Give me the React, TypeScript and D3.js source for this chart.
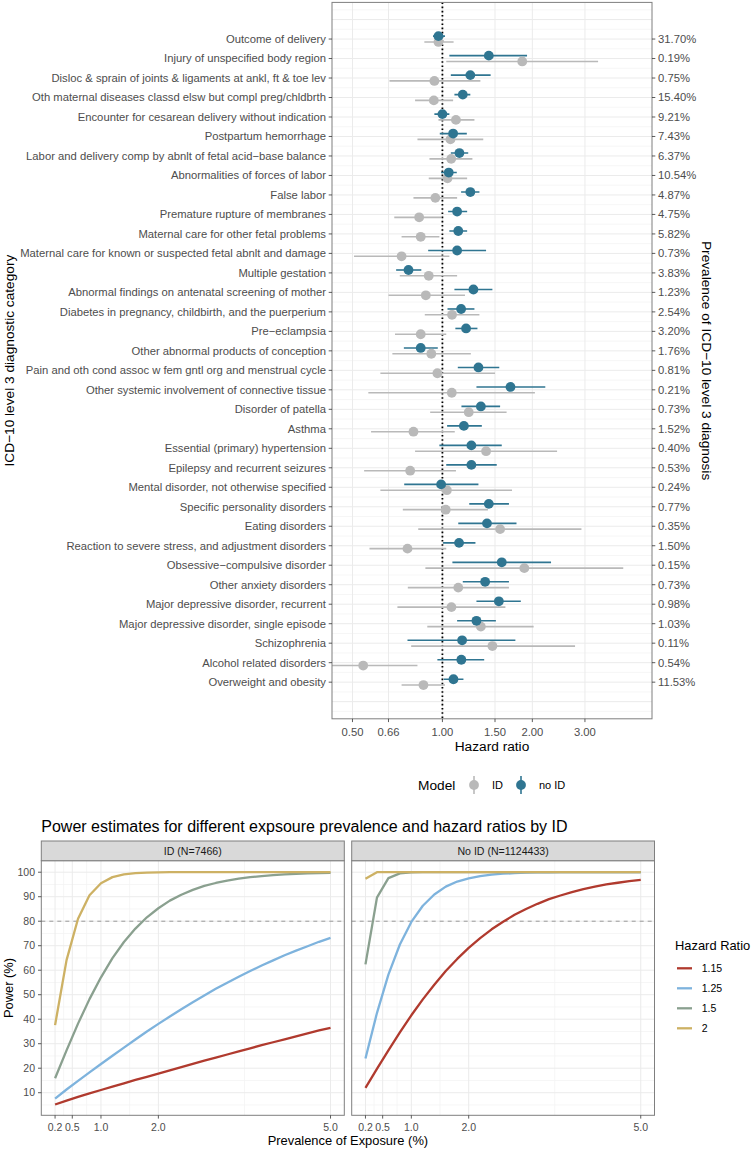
import React from 'react';
import * as d3 from 'd3';

const FONT = "'Liberation Sans', Arial, Helvetica, sans-serif";

const categories = [
  'Outcome of delivery',
  'Injury of unspecified body region',
  'Disloc & sprain of joints & ligaments at ankl, ft & toe lev',
  'Oth maternal diseases classd elsw but compl preg/chldbrth',
  'Encounter for cesarean delivery without indication',
  'Postpartum hemorrhage',
  'Labor and delivery comp by abnlt of fetal acid\u2212base balance',
  'Abnormalities of forces of labor',
  'False labor',
  'Premature rupture of membranes',
  'Maternal care for other fetal problems',
  'Maternal care for known or suspected fetal abnlt and damage',
  'Multiple gestation',
  'Abnormal findings on antenatal screening of mother',
  'Diabetes in pregnancy, childbirth, and the puerperium',
  'Pre\u2212eclampsia',
  'Other abnormal products of conception',
  'Pain and oth cond assoc w fem gntl org and menstrual cycle',
  'Other systemic involvement of connective tissue',
  'Disorder of patella',
  'Asthma',
  'Essential (primary) hypertension',
  'Epilepsy and recurrent seizures',
  'Mental disorder, not otherwise specified',
  'Specific personality disorders',
  'Eating disorders',
  'Reaction to severe stress, and adjustment disorders',
  'Obsessive\u2212compulsive disorder',
  'Other anxiety disorders',
  'Major depressive disorder, recurrent',
  'Major depressive disorder, single episode',
  'Schizophrenia',
  'Alcohol related disorders',
  'Overweight and obesity',
];

const prevalenceLabels = [
  '31.70%', '0.19%', '0.75%', '15.40%', '9.21%', '7.43%', '6.37%', '10.54%', '4.87%',
  '4.75%', '5.82%', '0.73%', '3.83%', '1.23%', '2.54%', '3.20%', '1.76%', '0.81%',
  '0.21%', '0.73%', '1.52%', '0.40%', '0.53%', '0.24%', '0.77%', '0.35%', '1.50%',
  '0.15%', '0.73%', '0.98%', '1.03%', '0.11%', '0.54%', '11.53%',
];

const noIdHR = [0.97, 1.43, 1.24, 1.17, 1.0, 1.086, 1.14, 1.05, 1.24, 1.12, 1.13, 1.12, 0.77, 1.27, 1.155, 1.2, 0.846, 1.32, 1.69, 1.345, 1.18, 1.25, 1.25, 0.99, 1.43, 1.41, 1.137, 1.58, 1.39, 1.545, 1.3, 1.164, 1.157, 1.089];
const noIdLower = [0.93, 1.055, 1.067, 1.097, 0.94, 0.98, 1.067, 0.99, 1.155, 1.045, 1.055, 0.896, 0.7, 1.097, 1.04, 1.105, 0.743, 1.126, 1.3, 1.158, 1.037, 0.977, 1.03, 0.745, 1.23, 1.13, 1.005, 1.08, 1.17, 1.3, 1.12, 0.764, 0.962, 1.01];
const noIdUpper = [1.02, 1.92, 1.45, 1.24, 1.055, 1.207, 1.22, 1.117, 1.33, 1.21, 1.21, 1.4, 0.85, 1.47, 1.28, 1.31, 0.965, 1.55, 2.21, 1.56, 1.355, 1.58, 1.52, 1.32, 1.67, 1.77, 1.29, 2.31, 1.67, 1.83, 1.51, 1.755, 1.38, 1.176];

const idHR = [0.97, 1.85, 0.94, 0.936, 1.11, 1.064, 1.07, 1.04, 0.947, 0.836, 0.846, 0.73, 0.9, 0.88, 1.077, 0.846, 0.918, 0.962, 1.075, 1.225, 0.8, 1.4, 0.78, 1.035, 1.026, 1.56, 0.764, 1.88, 1.13, 1.072, 1.345, 1.47, 0.543, 0.864];
const idLower = [0.87, 1.03, 0.665, 0.81, 0.97, 0.825, 0.905, 0.9, 0.8, 0.69, 0.73, 0.506, 0.72, 0.66, 0.873, 0.694, 0.68, 0.62, 0.565, 0.91, 0.577, 0.81, 0.547, 0.62, 0.737, 0.83, 0.57, 0.877, 0.766, 0.707, 0.89, 0.786, 0.4, 0.73];
const idUpper = [1.09, 3.32, 1.34, 1.086, 1.28, 1.37, 1.26, 1.21, 1.12, 0.99, 0.977, 1.055, 1.12, 1.19, 1.33, 1.03, 1.245, 1.5, 2.04, 1.64, 1.1, 2.42, 1.11, 1.71, 1.42, 2.92, 1.03, 4.03, 1.67, 1.625, 2.02, 2.78, 0.825, 1.02];

const hrTicks = [0.5, 0.66, 1, 1.5, 2, 3];
const hrTickLabels = ['0.50', '0.66', '1.00', '1.50', '2.00', '3.00'];

const exposure = [0.2, 0.4, 0.6, 0.8, 1.0, 1.2, 1.4, 1.6, 1.8, 2.0, 2.2, 2.4, 2.6, 2.8, 3.0, 3.2, 3.4, 3.6, 3.8, 4.0, 4.2, 4.4, 4.6, 4.8, 5.0];
const exposureTicks = [0.2, 0.5, 1, 2, 5];
const exposureTickLabels = ['0.2', '0.5', '1.0', '2.0', '5.0'];
const exposureMinor = [0.35, 0.75, 1.5, 3.5];
const powerTicks = [10, 20, 30, 40, 50, 60, 70, 80, 90, 100];
const powerMinor = [5, 15, 25, 35, 45, 55, 65, 75, 85, 95];

const hazardRatios = ['1.15', '1.25', '1.5', '2'];
const hrColors = ['#B03A2E', '#7EB3DD', '#8AA08F', '#CDB164'];

const idPower115 = [5.2, 6.8, 8.3, 9.7, 11.1, 12.5, 13.8, 15.2, 16.5, 17.8, 19.1, 20.4, 21.8, 23.1, 24.3, 25.6, 26.9, 28.1, 29.4, 30.6, 31.8, 33.0, 34.2, 35.4, 36.5];
const idPower125 = [7.6, 11.3, 14.8, 18.3, 21.7, 25.1, 28.4, 31.7, 35.0, 38.1, 41.1, 44.1, 46.9, 49.7, 52.4, 54.9, 57.3, 59.7, 61.9, 64.0, 66.1, 68.0, 69.8, 71.6, 73.2];
const idPower150 = [15.9, 27.3, 38.2, 48.2, 57.1, 64.9, 71.5, 77.0, 81.6, 85.3, 88.4, 90.8, 92.8, 94.4, 95.6, 96.6, 97.4, 98.0, 98.4, 98.8, 99.1, 99.3, 99.5, 99.6, 99.7];
const idPower200 = [37.6, 64.1, 81.0, 90.6, 95.5, 98.0, 99.1, 99.6, 99.8, 99.9, 100, 100, 100, 100, 100, 100, 100, 100, 100, 100, 100, 100, 100, 100, 100];

const noIdPower115 = [12.0, 19.7, 27.3, 34.6, 41.6, 48.1, 54.1, 59.7, 64.6, 69.1, 73.1, 76.7, 79.8, 82.6, 85.0, 87.1, 89.0, 90.5, 91.9, 93.1, 94.1, 95.0, 95.7, 96.4, 96.9];
const noIdPower125 = [24.0, 42.5, 58.2, 70.5, 79.7, 86.3, 90.9, 94.1, 96.2, 97.5, 98.4, 99.0, 99.4, 99.6, 99.8, 99.9, 99.9, 100, 100, 100, 100, 100, 100, 100, 100];
const noIdPower150 = [62.4, 89.6, 97.6, 99.5, 99.9, 100, 100, 100, 100, 100, 100, 100, 100, 100, 100, 100, 100, 100, 100, 100, 100, 100, 100, 100, 100];
const noIdPower200 = [97.3, 100, 100, 100, 100, 100, 100, 100, 100, 100, 100, 100, 100, 100, 100, 100, 100, 100, 100, 100, 100, 100, 100, 100, 100];

const panelLabels = ['ID (N=7466)', 'No ID (N=1124433)'];

const TEAL = '#2F7591';
const GREY = '#B9B9B9';
const TICK_TEXT = '#4D4D4D';
const GRID = '#EBEBEB';
const GRID_MINOR = '#F4F4F4';
const BORDER = '#7F7F7F';

export default function App() {
  // ---------- forest plot ----------
  const FX0 = 332, FX1 = 652, FY0 = 2.4, FY1 = 718.8;
  const fx = d3.scaleLog().domain([0.427, 5.03]).range([FX0, FX1]);
  const fy = d3.scaleLinear().domain([-1.88, 34.88]).range([FY0, FY1]);
  const dodge = 2.9;
  const halfSteps = d3.range(-1.5, 35, 0.5);

  // ---------- power plot ----------
  const PY0 = 860.7, PY1 = 1115.3;
  const panelsX = [[41.3, 344.3], [351.7, 654.5]];
  const py = d3.scaleLinear().domain([0.78, 104.7]).range([PY1, PY0]);
  const panelSeries = [
    [idPower115, idPower125, idPower150, idPower200],
    [noIdPower115, noIdPower125, noIdPower150, noIdPower200],
  ];

  return (
    <svg width={751} height={1149} style={{ position: 'absolute', left: 0, top: 0, background: '#fff' }} fontFamily={FONT}>
      <rect x={0} y={0} width={751} height={1149} fill="#fff" />
      <defs>
        <clipPath id="forestClip">
          <rect x={FX0} y={FY0} width={FX1 - FX0} height={FY1 - FY0} />
        </clipPath>
      </defs>

      {/* forest grid */}
      {halfSteps.map((s) => (
        <line key={'hg' + s} x1={FX0} x2={FX1} y1={fy(s)} y2={fy(s)}
          stroke={Number.isInteger(s) ? GRID : GRID_MINOR} strokeWidth={Number.isInteger(s) ? 1 : 0.8} />
      ))}
      {hrTicks.map((t) => (
        <line key={'vg' + t} x1={fx(t)} x2={fx(t)} y1={FY0} y2={FY1} stroke={GRID} strokeWidth={1} />
      ))}
      <line x1={fx(1)} x2={fx(1)} y1={FY0} y2={FY1} stroke="#000" strokeWidth={1.8} strokeDasharray="1.6 2.6" />

      {/* forest marks */}
      <g clipPath="url(#forestClip)">
        {categories.map((c, i) => (
          <line key={'idl' + i} x1={fx(idLower[i])} x2={fx(idUpper[i])} y1={fy(i) + dodge} y2={fy(i) + dodge}
            stroke={GREY} strokeWidth={1.6} />
        ))}
        {categories.map((c, i) => (
          <line key={'nil' + i} x1={fx(noIdLower[i])} x2={fx(noIdUpper[i])} y1={fy(i) - dodge} y2={fy(i) - dodge}
            stroke={TEAL} strokeWidth={1.6} />
        ))}
        {categories.map((c, i) => (
          <circle key={'idp' + i} cx={fx(idHR[i])} cy={fy(i) + dodge} r={4.9} fill={GREY} />
        ))}
        {categories.map((c, i) => (
          <circle key={'nip' + i} cx={fx(noIdHR[i])} cy={fy(i) - dodge} r={4.9} fill={TEAL} />
        ))}
      </g>
      <rect x={FX0} y={FY0} width={FX1 - FX0} height={FY1 - FY0} fill="none" stroke={BORDER} strokeWidth={1} />

      {/* forest axes */}
      {categories.map((c, i) => (
        <g key={'yl' + i}>
          <line x1={FX0 - 3.3} x2={FX0} y1={fy(i)} y2={fy(i)} stroke="#333" strokeWidth={0.8} />
          <text x={FX0 - 6} y={fy(i)} dy="0.35em" textAnchor="end" fontSize={11.25} fill={TICK_TEXT}>{c}</text>
          <line x1={FX1} x2={FX1 + 3.3} y1={fy(i)} y2={fy(i)} stroke="#333" strokeWidth={0.8} />
          <text x={FX1 + 6} y={fy(i)} dy="0.35em" textAnchor="start" fontSize={11.25} fill={TICK_TEXT}>{prevalenceLabels[i]}</text>
        </g>
      ))}
      {hrTicks.map((t, i) => (
        <g key={'xt' + t}>
          <line x1={fx(t)} x2={fx(t)} y1={FY1} y2={FY1 + 3.3} stroke="#333" strokeWidth={0.8} />
          <text x={fx(t)} y={731.7} dy="0.35em" textAnchor="middle" fontSize={11.25} fill={TICK_TEXT}>{hrTickLabels[i]}</text>
        </g>
      ))}
      <text x={(FX0 + FX1) / 2} y={746.5} dy="0.35em" textAnchor="middle" fontSize={13.7} fill="#000">Hazard ratio</text>
      <text transform={`translate(9.5,${(FY0 + FY1) / 2}) rotate(-90)`} dy="0.35em" textAnchor="middle" fontSize={13.7} fill="#000">
        ICD{'\u2212'}10 level 3 diagnostic category
      </text>
      <text transform={`translate(707,${(FY0 + FY1) / 2}) rotate(90)`} dy="0.35em" textAnchor="middle" fontSize={13.7} fill="#000">
        Prevalence of ICD{'\u2212'}10 level 3 diagnosis
      </text>

      {/* forest legend */}
      <text x={418} y={785} dy="0.35em" fontSize={13.7} fill="#000">Model</text>
      <line x1={474} x2={474} y1={776} y2={794} stroke={GREY} strokeWidth={1.6} />
      <circle cx={474} cy={785} r={4.9} fill={GREY} />
      <text x={492} y={785} dy="0.35em" fontSize={11} fill="#000">ID</text>
      <line x1={521} x2={521} y1={776} y2={794} stroke={TEAL} strokeWidth={1.6} />
      <circle cx={521} cy={785} r={4.9} fill={TEAL} />
      <text x={539} y={785} dy="0.35em" fontSize={11} fill="#000">no ID</text>

      {/* power plot title */}
      <text x={41.3} y={826} dy="0.35em" fontSize={16} fill="#000">
        Power estimates for different expsoure prevalence and hazard ratios by ID
      </text>

      {panelsX.map(([x0, x1], pi) => {
        const px = d3.scaleLinear().domain([-0.04, 5.24]).range([x0, x1]);
        const line = d3.line<number>().x((d, k) => px(exposure[k])).y((d) => py(d));
        return (
          <g key={'panel' + pi}>
            <rect x={x0} y={PY0} width={x1 - x0} height={PY1 - PY0} fill="#fff" />
            {powerMinor.map((v) => (
              <line key={'pmy' + v} x1={x0} x2={x1} y1={py(v)} y2={py(v)} stroke={GRID_MINOR} strokeWidth={0.8} />
            ))}
            {exposureMinor.map((v) => (
              <line key={'pmx' + v} x1={px(v)} x2={px(v)} y1={PY0} y2={PY1} stroke={GRID_MINOR} strokeWidth={0.8} />
            ))}
            {powerTicks.map((v) => (
              <line key={'pgy' + v} x1={x0} x2={x1} y1={py(v)} y2={py(v)} stroke={GRID} strokeWidth={1} />
            ))}
            {exposureTicks.map((v) => (
              <line key={'pgx' + v} x1={px(v)} x2={px(v)} y1={PY0} y2={PY1} stroke={GRID} strokeWidth={1} />
            ))}
            <line x1={x0} x2={x1} y1={py(80)} y2={py(80)} stroke="#9A9A9A" strokeWidth={1} strokeDasharray="4 4" />
            {panelSeries[pi].map((s, si) => (
              <path key={'ps' + si} d={line(s) || ''} fill="none" stroke={hrColors[si]} strokeWidth={2.3} strokeLinejoin="round" />
            ))}
            <rect x={x0} y={PY0} width={x1 - x0} height={PY1 - PY0} fill="none" stroke={BORDER} strokeWidth={1} />
            <rect x={x0} y={841} width={x1 - x0} height={PY0 - 841} fill="#D9D9D9" stroke={BORDER} strokeWidth={1} />
            <text x={(x0 + x1) / 2} y={851} dy="0.35em" textAnchor="middle" fontSize={10.6} fill="#1A1A1A">{panelLabels[pi]}</text>
            {exposureTicks.map((v, k) => (
              <g key={'pxt' + v}>
                <line x1={px(v)} x2={px(v)} y1={PY1} y2={PY1 + 3.3} stroke="#333" strokeWidth={0.8} />
                <text x={px(v)} y={1127} dy="0.35em" textAnchor="middle" fontSize={10.5} fill={TICK_TEXT}>{exposureTickLabels[k]}</text>
              </g>
            ))}
          </g>
        );
      })}

      {powerTicks.map((v) => (
        <g key={'pyt' + v}>
          <line x1={41.3 - 3.3} x2={41.3} y1={py(v)} y2={py(v)} stroke="#333" strokeWidth={0.8} />
          <text x={35} y={py(v)} dy="0.35em" textAnchor="end" fontSize={10.5} fill={TICK_TEXT}>{v}</text>
        </g>
      ))}
      <text transform={`translate(8,${(PY0 + PY1) / 2}) rotate(-90)`} dy="0.35em" textAnchor="middle" fontSize={12.9} fill="#000">Power (%)</text>
      <text x={(41.3 + 654.5) / 2} y={1140} dy="0.35em" textAnchor="middle" fontSize={12.9} fill="#000">Prevalence of Exposure (%)</text>

      {/* power legend */}
      <text x={675} y={945} dy="0.35em" fontSize={12.9} fill="#000">Hazard Ratio</text>
      {hazardRatios.map((h, i) => (
        <g key={'lg' + h}>
          <line x1={677} x2={692} y1={968.3 + i * 20} y2={968.3 + i * 20} stroke={hrColors[i]} strokeWidth={2.3} />
          <text x={701.7} y={968.3 + i * 20} dy="0.35em" fontSize={10.5} fill="#000">{h}</text>
        </g>
      ))}
    </svg>
  );
}
